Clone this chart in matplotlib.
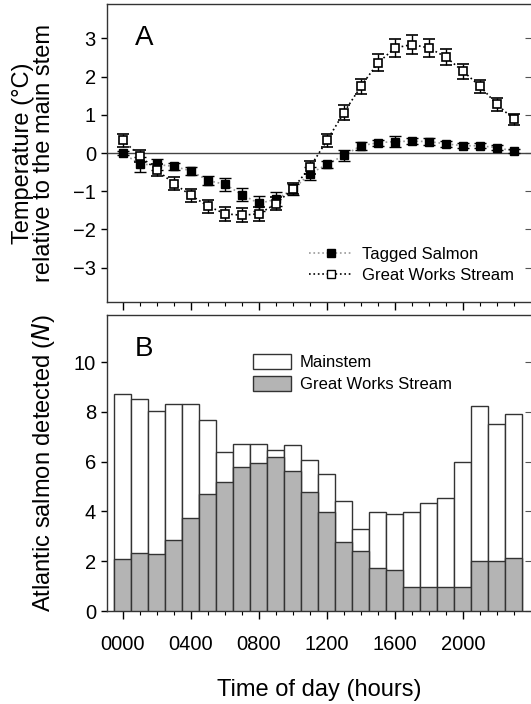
import numpy as np
import matplotlib
matplotlib.use("Agg")
import matplotlib.pyplot as plt
from matplotlib.lines import Line2D
from matplotlib.patches import Patch

plt.rcParams['font.family'] = ['Liberation Sans', 'DejaVu Sans']

# Hour of day (one value per hour)
hours = list(range(24))
hour_labels = ["0000", "0400", "0800", "1200", "1600", "2000"]

# Panel A: temperature relative to main stem (deg C)
tagged_temp = [0.00, -0.30, -0.30, -0.35, -0.47, -0.72, -0.82, -1.09, -1.32, -1.21,
               -0.95, -0.54, -0.30, -0.06, 0.19, 0.27, 0.30, 0.31, 0.30, 0.24,
               0.19, 0.19, 0.14, 0.05]
tagged_err = [0.05, 0.20, 0.15, 0.10, 0.10, 0.12, 0.17, 0.17, 0.20, 0.18,
              0.15, 0.17, 0.10, 0.15, 0.10, 0.08, 0.15, 0.08, 0.08, 0.08,
              0.06, 0.06, 0.06, 0.06]
gws_temp = [0.33, -0.08, -0.45, -0.80, -1.11, -1.39, -1.59, -1.63, -1.59, -1.33,
            -0.93, -0.37, 0.33, 1.06, 1.75, 2.36, 2.75, 2.84, 2.75, 2.51,
            2.14, 1.75, 1.27, 0.88]
gws_err = [0.18, 0.15, 0.16, 0.17, 0.17, 0.17, 0.18, 0.18, 0.18, 0.17,
           0.15, 0.17, 0.18, 0.20, 0.20, 0.22, 0.23, 0.24, 0.23, 0.20,
           0.20, 0.17, 0.17, 0.15]

# Panel B: Atlantic salmon detected
mainstem_n = [8.72, 8.52, 8.04, 8.32, 8.32, 7.66, 6.39, 6.72, 6.72, 6.46,
              6.66, 6.05, 5.49, 4.42, 3.28, 3.99, 3.89, 3.99, 4.34, 4.56,
              5.99, 8.26, 7.52, 7.93]
gws_n = [2.08, 2.32, 2.31, 2.85, 3.73, 4.72, 5.19, 5.80, 5.95, 6.19,
         5.64, 4.79, 3.99, 2.78, 2.40, 1.73, 1.65, 0.98, 0.98, 0.98,
         0.98, 1.99, 1.99, 2.13]

fig = plt.figure(figsize=(5.31, 7.04), dpi=100)
axA = fig.add_axes([0.2015, 0.571, 0.7985, 0.4233])
axB = fig.add_axes([0.2015, 0.1321, 0.7985, 0.4205])

xlim = (-0.94, 24.0)
tick_fs = 14.5
label_fs = 17

def style_axes(ax):
    ax.set_xlim(*xlim)
    ax.spines['right'].set_visible(False)
    for s in ['left', 'top', 'bottom']:
        ax.spines[s].set_linewidth(1.0)
        ax.spines[s].set_color('#333333')
    ax.set_xticks(list(range(0, 24, 4)))
    ax.set_xticks(hours, minor=True)
    ax.tick_params(axis='x', which='major', length=6, width=1, direction='out')
    ax.tick_params(axis='x', which='minor', length=3, width=0.8, direction='out')
    ax.tick_params(axis='y', length=4, width=1, direction='out',
                   labelsize=tick_fs, pad=4)
    sec = ax.secondary_yaxis('right')
    sec.set_yticks(ax.get_yticks())
    sec.tick_params(direction='in', length=4, labelright=False, color='#555555')
    sec.spines['right'].set_visible(False)

# Panel A
axA.axhline(0, color='#444444', lw=1.0, zorder=1)
axA.plot(hours, tagged_temp, ls=':', color='#999999', lw=1.2, zorder=2)
axA.plot(hours, gws_temp, ls=':', color='black', lw=1.2, zorder=2)
axA.errorbar(hours, tagged_temp, yerr=tagged_err, fmt='s', color='black',
             mfc='black', mec='black', ms=6, capsize=4.5, elinewidth=1.0,
             capthick=1.0, zorder=3)
axA.errorbar(hours, gws_temp, yerr=gws_err, fmt='s', color='black',
             mfc='white', mec='black', ms=6, mew=1.2, capsize=4.5, elinewidth=1.0,
             capthick=1.0, zorder=4)
axA.set_ylim(-3.9, 3.9)
axA.set_yticks([-3, -2, -1, 0, 1, 2, 3])
style_axes(axA)
axA.tick_params(axis='x', labelbottom=False)
axA.set_ylabel("Temperature (\u00b0C)\nrelative to the main stem", fontsize=label_fs,
               labelpad=13, linespacing=0.95)
axA.text(0.065, 0.885, "A", transform=axA.transAxes, fontsize=20, va='center')

legA = [Line2D([0], [0], color='#999999', ls=':', lw=1.2, marker='s', ms=6,
               mfc='black', mec='black'),
        Line2D([0], [0], color='black', ls=':', lw=1.2, marker='s', ms=6,
               mfc='white', mec='black')]
axA.legend(legA, ["Tagged Salmon", "Great Works Stream"], loc='upper left',
           bbox_to_anchor=(0.477, 0.186), frameon=False, fontsize=12,
           borderpad=0, borderaxespad=0,
           handlelength=2.6, handletextpad=0.55, labelspacing=0.4)

# Panel B
axB.bar(hours, mainstem_n, width=1.0, color='white', edgecolor='#333333',
        linewidth=1.0, zorder=2)
axB.bar(hours, gws_n, width=1.0, color='#b4b4b4', edgecolor='#333333',
        linewidth=1.0, zorder=3)
axB.set_ylim(0, 11.9)
axB.set_yticks([0, 2, 4, 6, 8, 10])
style_axes(axB)
axB.set_xticklabels(hour_labels, fontsize=tick_fs)
axB.tick_params(axis='x', which='major', pad=11)
axB.set_ylabel("Atlantic salmon detected ($\\it{N}$)", fontsize=label_fs, labelpad=12)
axB.set_xlabel("Time of day (hours)", fontsize=label_fs, labelpad=18)
axB.text(0.065, 0.885, "B", transform=axB.transAxes, fontsize=20, va='center')

legB = [Patch(facecolor='white', edgecolor='#333333'),
        Patch(facecolor='#b4b4b4', edgecolor='#333333')]
axB.legend(legB, ["Mainstem", "Great Works Stream"], loc='upper left',
           bbox_to_anchor=(0.344, 0.868), frameon=False, fontsize=12,
           borderpad=0, borderaxespad=0,
           handlelength=2.3, handleheight=1.0, handletextpad=0.5,
           labelspacing=0.35)

fig.savefig("out.png", dpi=100)
